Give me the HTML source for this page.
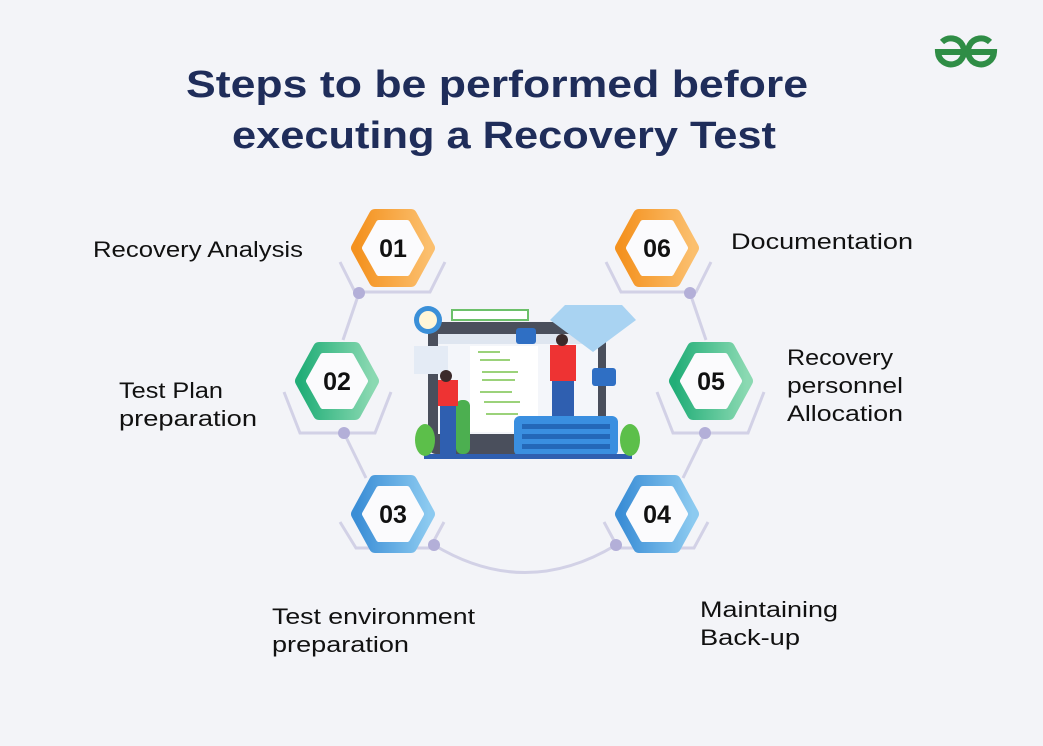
<!DOCTYPE html>
<html><head><meta charset="utf-8"><style>
body{margin:0;background:#f3f4f8;}
svg{display:block}
text{font-family:"Liberation Sans",sans-serif}
</style></head><body>
<svg width="1043" height="746" viewBox="0 0 1043 746">
<defs>
<linearGradient id="go" x1="0" x2="1"><stop offset="0" stop-color="#f4921f"/><stop offset="1" stop-color="#fbbf6e"/></linearGradient>
<linearGradient id="gg" x1="0" x2="1"><stop offset="0" stop-color="#22ae78"/><stop offset="1" stop-color="#8bd9b2"/></linearGradient>
<linearGradient id="gb" x1="0" x2="1"><stop offset="0" stop-color="#3b8ed6"/><stop offset="1" stop-color="#8ccaf0"/></linearGradient>
</defs>
<rect width="1043" height="746" fill="#f3f4f8"/>
<!-- logo -->
<g fill="none" stroke="#2f8d46" stroke-width="6">
<path d="M942 42 A13 13 0 1 1 938 52 H966"/>
<path d="M990 42 A13 13 0 1 0 994 52 H966"/>
</g>
<text x="186" y="97" textLength="622" lengthAdjust="spacingAndGlyphs" font-size="38" font-weight="700" fill="#1f2d5a">Steps to be performed before</text>
<text x="232" y="148" textLength="544" lengthAdjust="spacingAndGlyphs" font-size="38" font-weight="700" fill="#1f2d5a">executing a Recovery Test</text>

<!-- connectors -->
<g fill="none" stroke="#d2d1e6" stroke-width="3">
<path d="M340 262 L355 292 H430 L445 262"/>
<path d="M606 262 L621 292 H696 L711 262"/>
<path d="M284 392 L300 433 H375 L391 392"/>
<path d="M657 392 L673 433 H748 L764 392"/>
<path d="M340 522 L356 548 H430 L444 522"/>
<path d="M604 522 L618 548 H694 L708 522"/>
<path d="M359 293 L343 340"/>
<path d="M690 293 L706 340"/>
<path d="M344 433 L366 478"/>
<path d="M705 433 L683 478"/>
<path d="M434 545 Q525 600 616 545"/>
</g>
<g fill="#b3afd8">
<circle cx="359" cy="293" r="6"/><circle cx="690" cy="293" r="6"/>
<circle cx="344" cy="433" r="6"/><circle cx="705" cy="433" r="6"/>
<circle cx="434" cy="545" r="6"/><circle cx="616" cy="545" r="6"/>
</g>

<!-- hexagons -->
<g stroke-linejoin="round">
<g transform="translate(393,248)"><polygon points="-36,0 -18,-33 18,-33 36,0 18,33 -18,33" fill="url(#go)" stroke="url(#go)" stroke-width="12"/><polygon points="-28,0 -14,-25 14,-25 28,0 14,25 -14,25" fill="#fbfbfd" stroke="#fbfbfd" stroke-width="6"/></g>
<g transform="translate(657,248)"><polygon points="-36,0 -18,-33 18,-33 36,0 18,33 -18,33" fill="url(#go)" stroke="url(#go)" stroke-width="12"/><polygon points="-28,0 -14,-25 14,-25 28,0 14,25 -14,25" fill="#fbfbfd" stroke="#fbfbfd" stroke-width="6"/></g>
<g transform="translate(337,381)"><polygon points="-36,0 -18,-33 18,-33 36,0 18,33 -18,33" fill="url(#gg)" stroke="url(#gg)" stroke-width="12"/><polygon points="-28,0 -14,-25 14,-25 28,0 14,25 -14,25" fill="#fbfbfd" stroke="#fbfbfd" stroke-width="6"/></g>
<g transform="translate(711,381)"><polygon points="-36,0 -18,-33 18,-33 36,0 18,33 -18,33" fill="url(#gg)" stroke="url(#gg)" stroke-width="12"/><polygon points="-28,0 -14,-25 14,-25 28,0 14,25 -14,25" fill="#fbfbfd" stroke="#fbfbfd" stroke-width="6"/></g>
<g transform="translate(393,514)"><polygon points="-36,0 -18,-33 18,-33 36,0 18,33 -18,33" fill="url(#gb)" stroke="url(#gb)" stroke-width="12"/><polygon points="-28,0 -14,-25 14,-25 28,0 14,25 -14,25" fill="#fbfbfd" stroke="#fbfbfd" stroke-width="6"/></g>
<g transform="translate(657,514)"><polygon points="-36,0 -18,-33 18,-33 36,0 18,33 -18,33" fill="url(#gb)" stroke="url(#gb)" stroke-width="12"/><polygon points="-28,0 -14,-25 14,-25 28,0 14,25 -14,25" fill="#fbfbfd" stroke="#fbfbfd" stroke-width="6"/></g>
</g>
<g font-size="25" font-weight="700" fill="#111" text-anchor="middle">
<text x="393" y="257">01</text><text x="657" y="257">06</text>
<text x="337" y="390">02</text><text x="711" y="390">05</text>
<text x="393" y="523">03</text><text x="657" y="523">04</text>
</g>

<!-- labels -->
<g font-size="22" fill="#111">
<text x="93" y="257" textLength="210" lengthAdjust="spacingAndGlyphs">Recovery Analysis</text>
<text x="119" y="398" textLength="104" lengthAdjust="spacingAndGlyphs">Test Plan</text><text x="119" y="426" textLength="138" lengthAdjust="spacingAndGlyphs">preparation</text>
<text x="272" y="624" textLength="203" lengthAdjust="spacingAndGlyphs">Test environment</text><text x="272" y="652" textLength="137" lengthAdjust="spacingAndGlyphs">preparation</text>
<text x="700" y="617" textLength="138" lengthAdjust="spacingAndGlyphs">Maintaining</text><text x="700" y="645" textLength="100" lengthAdjust="spacingAndGlyphs">Back-up</text>
<text x="787" y="365" textLength="106" lengthAdjust="spacingAndGlyphs">Recovery</text><text x="787" y="393" textLength="116" lengthAdjust="spacingAndGlyphs">personnel</text><text x="787" y="421" textLength="116" lengthAdjust="spacingAndGlyphs">Allocation</text>
<text x="731" y="249" textLength="182" lengthAdjust="spacingAndGlyphs">Documentation</text>
</g>

<!-- illustration -->
<g>
<rect x="428" y="322" width="178" height="132" rx="8" fill="#4a4f5c"/>
<rect x="438" y="334" width="160" height="100" fill="#f4f6fa"/>
<rect x="438" y="334" width="160" height="10" fill="#dfe6f0"/>
<rect x="470" y="346" width="68" height="86" fill="#fff"/>
<g stroke="#9bd27a" stroke-width="2">
<line x1="478" y1="352" x2="500" y2="352"/><line x1="480" y1="360" x2="510" y2="360"/><line x1="482" y1="372" x2="518" y2="372"/><line x1="482" y1="380" x2="515" y2="380"/><line x1="480" y1="392" x2="512" y2="392"/><line x1="484" y1="402" x2="520" y2="402"/><line x1="486" y1="414" x2="518" y2="414"/>
</g>
<rect x="452" y="310" width="76" height="10" fill="#fff" stroke="#6cc06a" stroke-width="2"/>
<circle cx="428" cy="320" r="14" fill="#3a8fd8"/><circle cx="428" cy="320" r="9" fill="#fff6d8"/>
<rect x="414" y="346" width="34" height="28" fill="#e4ebf5"/>
<rect x="516" y="328" width="20" height="16" rx="3" fill="#2f6fc4"/>
<rect x="592" y="368" width="24" height="18" rx="3" fill="#2f6fc4"/>
<polygon points="565,305 622,305 636,320 593,352 550,320" fill="#a9d3f2"/>
<rect x="514" y="416" width="104" height="40" rx="6" fill="#3a8fe0"/>
<g fill="#2468b8"><rect x="522" y="424" width="88" height="5"/><rect x="522" y="434" width="88" height="5"/><rect x="522" y="444" width="88" height="5"/></g>
<rect x="424" y="454" width="208" height="5" fill="#2f5fb0"/>
<rect x="456" y="400" width="14" height="54" rx="6" fill="#4caf50"/>
<rect x="440" y="385" width="16" height="70" fill="#2f5fb0"/><rect x="438" y="380" width="20" height="26" fill="#e33"/>
<rect x="552" y="380" width="22" height="36" fill="#2f5fb0"/><rect x="550" y="345" width="26" height="36" fill="#e33"/>
<circle cx="562" cy="340" r="6" fill="#3b2a2a"/><circle cx="446" cy="376" r="6" fill="#3b2a2a"/>
<ellipse cx="425" cy="440" rx="10" ry="16" fill="#5cbf4a"/><ellipse cx="630" cy="440" rx="10" ry="16" fill="#5cbf4a"/>
</g>
</svg>
</body></html>
